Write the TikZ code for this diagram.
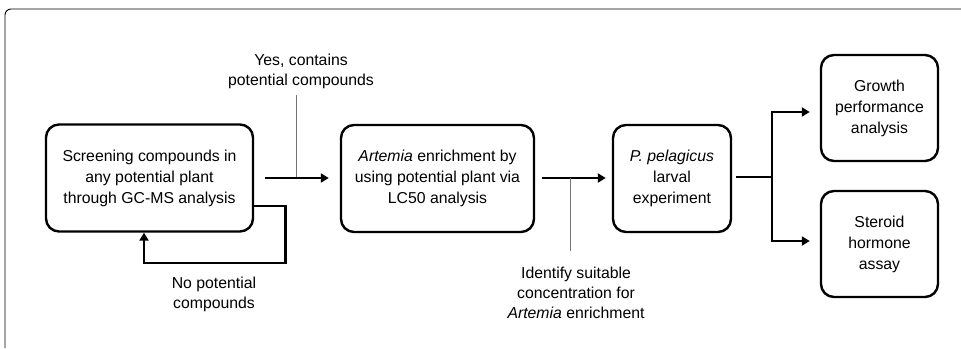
\documentclass[tikz,border=0pt]{standalone}
\usepackage{fontspec}
\setmainfont{Liberation Sans}
\usepackage{tikz}
\usetikzlibrary{arrows.meta}

\begin{document}
\begin{tikzpicture}[x=1pt,y=-1pt,>={Triangle[length=8pt,width=9pt]}]
    \tikzstyle{stage}=[rectangle,draw=black,line width=2.4pt,rounded corners=13pt,align=center,inner sep=0pt,font=\fontsize{15.8}{21}\selectfont]
    \tikzstyle{flow}=[->,draw=black,line width=2.6pt]
    \tikzstyle{tick}=[draw=black!55,line width=0.8pt]
    \tikzstyle{annot}=[align=center,font=\fontsize{15.8}{20}\selectfont]
    \useasboundingbox (0,0) rectangle (961,348);

    % Frame
    \draw[line width=0.9pt,rounded corners=6pt] (5,348) -- (5,9) -- (961,9);

    % Draw the stages
    \node[stage,minimum width=207pt,minimum height=107pt] (S-1) at (149.5,178) {Screening compounds in\\any potential plant\\through GC-MS analysis};
    \node[stage,minimum width=193pt,minimum height=107pt] (S-2) at (437.5,178.5) {\textit{Artemia} enrichment by\\using potential plant via\\LC50 analysis};
    \node[stage,minimum width=118pt,minimum height=107pt] (S-3) at (672,178.5) {\textit{P. pelagicus}\\larval\\experiment};
    \node[stage,minimum width=117pt,minimum height=106pt] (S-4) at (879.5,108) {Growth\\performance\\analysis};
    \node[stage,minimum width=117pt,minimum height=106pt] (S-5) at (879.5,244) {Steroid\\hormone\\assay};

    % Connect the stages
    \draw[flow,shorten <=11pt,shorten >=11pt] (S-1.east |- 0,178) -- (S-2.west |- 0,178);
    \draw[flow,shorten <=7pt,shorten >=6pt] (S-2.east |- 0,178) -- (S-3.west |- 0,178);
    \draw[flow] ([yshift=-28pt]S-1.east) -- ++(31,0) -- ++(0,57) -| ([xshift=-5.5pt]S-1.south);
    \coordinate (split) at (772,177);
    \draw[line width=2.6pt,shorten <=4pt] (S-3.east |- split) -- (split);
    \draw[flow,shorten >=10pt] (split) |- (S-4.west |- 0,112);
    \draw[flow,shorten >=10pt] (split) |- (S-5.west |- 0,241);

    % Annotate the decisions
    \node[annot] (yes) at (301,71) {Yes, contains\\potential compounds};
    \node[annot] (no) at (214,294) {No potential\\compounds};
    \node[annot] (conc) at (576,293) {Identify suitable\\concentration for\\\textit{Artemia} enrichment};
    \coordinate (yes-top) at (296,95);
    \coordinate (yes-foot) at (296,177);
    \coordinate (conc-top) at (570,178);
    \coordinate (conc-foot) at (570,251);
    \path[tick] (yes-top) edge (yes-foot);
    \path[tick] (conc-top) edge (conc-foot);
\end{tikzpicture}
\end{document}
